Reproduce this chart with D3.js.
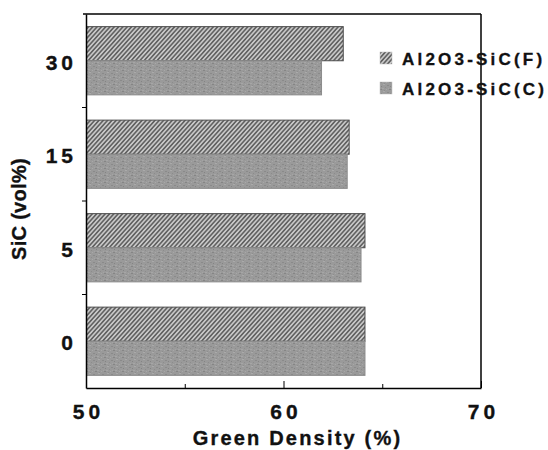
<!DOCTYPE html>
<html>
<head>
<meta charset="utf-8">
<script src="https://d3js.org/d3.v7.min.js"></script>
<style>
body { margin: 0; background: #fff; }
text { font-family: "Liberation Sans", Arial, Helvetica, sans-serif; font-weight: bold; fill: #111; stroke: #111; stroke-width: 0.35px; }
</style>
</head>
<body>
<div id="vis"></div>
<script>
// values
var categories = ["30", "15", "5", "0"];
var seriesNames = ["Al2O3-SiC(F)", "Al2O3-SiC(C)"];
var fineValues = [63.0, 63.3, 64.1, 64.1];
var coarseValues = [61.9, 63.2, 63.9, 64.1];
var xTickValues = [50, 60, 70];
var xMinorTicks = [55, 65];

var margin = {top: 14, right: 67, bottom: 62, left: 86},
	width = 548 - margin.left - margin.right,
	height = 450 - margin.top - margin.bottom;

var x = d3.scaleLinear()
			.domain([50, 70])
			.range([0, width]);
var y = d3.scaleBand()
			.domain(categories)
			.range([0, height])
			.paddingInner(0.27)
			.paddingOuter(0.135);
var ySub = d3.scaleBand()
			.domain(seriesNames)
			.range([0, y.bandwidth()]);

var svgRoot = d3.select("#vis").append("svg")
	.attr("width", 548)
	.attr("height", 450);

var defs = svgRoot.append("defs");

// hatch for the fine series
var hatch = defs.append("pattern")
	.attr("id", "hatch")
	.attr("patternUnits", "userSpaceOnUse")
	.attr("width", 3.2)
	.attr("height", 3.2)
	.attr("patternTransform", "rotate(42)");
hatch.append("rect").attr("width", 3.2).attr("height", 3.2).attr("fill", "#c8c8c8");
hatch.append("rect").attr("width", 1.6).attr("height", 3.2).attr("fill", "#626262");

// grainy stipple for the coarse series
var grain = defs.append("pattern")
	.attr("id", "grain")
	.attr("patternUnits", "userSpaceOnUse")
	.attr("width", 9)
	.attr("height", 7);
grain.append("rect").attr("width", 9).attr("height", 7).attr("fill", "#9a9a9a");
[[0, 0, 2, 1, "#858585"], [3, 2, 2, 1, "#aaaaaa"], [1, 4, 1, 1, "#848484"],
 [6, 0, 1, 1, "#a8a8a8"], [7, 3, 2, 1, "#8a8a8a"], [2, 6, 2, 1, "#a6a6a6"],
 [5, 5, 1, 1, "#8c8c8c"], [8, 6, 1, 1, "#a4a4a4"], [4, 1, 1, 1, "#8e8e8e"]].forEach(function(p){
	grain.append("rect")
		.attr("x", p[0]).attr("y", p[1])
		.attr("width", p[2]).attr("height", p[3])
		.attr("fill", p[4]);
});

var fills = {"Al2O3-SiC(F)": "url(#hatch)", "Al2O3-SiC(C)": "url(#grain)"};
var strokes = {"Al2O3-SiC(F)": "#4e4e4e", "Al2O3-SiC(C)": "#8c8c8c"};

var svg = svgRoot.append("g")
	.attr("transform", "translate(" + margin.left + "," + margin.top + ")");

var rows = [];
categories.forEach(function(c, i){
	rows.push({cat: c, series: seriesNames[0], value: fineValues[i]});
	rows.push({cat: c, series: seriesNames[1], value: coarseValues[i]});
});

svg.selectAll(".bar")
	.data(rows)
	.enter().append("rect")
		.attr("class", "bar")
		.attr("x", x(50) + 0.5)
		.attr("y", function(d){ return y(d.cat) + ySub(d.series); })
		.attr("width", function(d){ return x(d.value) - x(50); })
		.attr("height", ySub.bandwidth())
		.attr("fill", function(d){ return fills[d.series]; })
		.attr("stroke", function(d){ return strokes[d.series]; })
		.attr("stroke-width", 1);

//x axis
var xAxis = svg.append("g")
	.attr("transform", "translate(0," + height + ")")
	.call(d3.axisBottom(x).tickValues(xTickValues).tickSizeInner(-7).tickSizeOuter(0).tickPadding(16).tickFormat(d3.format("d")));
xAxis.selectAll("text")
	.attr("font-size", 21)
	.attr("letter-spacing", "4px")
	.attr("dx", "2px")
	.attr("fill", "#111");
svg.append("g")
	.attr("transform", "translate(0," + height + ")")
	.call(d3.axisBottom(x).tickValues(xMinorTicks).tickSizeInner(-4).tickSizeOuter(0).tickFormat(""))
	.select(".domain").remove();

//y axis
var yAxis = svg.append("g")
	.call(d3.axisLeft(y).tickSize(0).tickPadding(13));
yAxis.selectAll("text")
	.attr("font-size", 21)
	.attr("letter-spacing", "4px")
	.attr("dx", "4px")
	.attr("dy", "0.42em")
	.attr("fill", "#111");
// ticks between the groups
svg.selectAll(".ytick")
	.data(categories.slice(0, 3))
	.enter().append("line")
		.attr("class", "ytick")
		.attr("x1", -4).attr("x2", 0)
		.attr("y1", function(d){ return y(d) + y.bandwidth() / 2 + y.step() / 2; })
		.attr("y2", function(d){ return y(d) + y.bandwidth() / 2 + y.step() / 2; })
		.attr("stroke", "#000");

// frame: top and right
svg.append("line")
	.attr("x1", -3).attr("x2", width)
	.attr("y1", 0).attr("y2", 0)
	.attr("stroke", "#000").attr("stroke-width", 1.5);
svg.append("line")
	.attr("x1", width).attr("x2", width)
	.attr("y1", 0).attr("y2", height)
	.attr("stroke", "#000").attr("stroke-width", 1.5);
svg.selectAll(".domain").attr("stroke", "#000").attr("stroke-width", 1.5);
svg.selectAll(".tick line").attr("stroke", "#000");

// axis titles
svg.append("text")
	.attr("x", width / 2 + 14)
	.attr("y", height + 57)
	.attr("text-anchor", "middle")
	.attr("font-size", 20)
	.attr("letter-spacing", "2.2px")
	.text("Green Density (%)");
svg.append("text")
	.attr("transform", "translate(" + (-60) + "," + (height / 2 + 8) + ") rotate(-90)")
	.attr("text-anchor", "middle")
	.attr("font-size", 20)
	.attr("letter-spacing", "0.3px")
	.text("SiC (vol%)");

// legend
var legend = svg.selectAll(".legend")
	.data(seriesNames)
	.enter().append("g")
		.attr("class", "legend")
		.attr("transform", function(d, i){ return "translate(" + (294) + "," + (38 + i * 30) + ")"; });
legend.append("rect")
	.attr("width", 12).attr("height", 12)
	.attr("fill", function(d){ return fills[d]; })
	.attr("stroke", "#bbb")
	.attr("stroke-width", 0.5);
legend.append("text")
	.attr("x", 22)
	.attr("y", 12.5)
	.attr("font-size", 17)
	.attr("letter-spacing", "3.2px")
	.text(function(d){ return d; });
</script>
</body>
</html>
